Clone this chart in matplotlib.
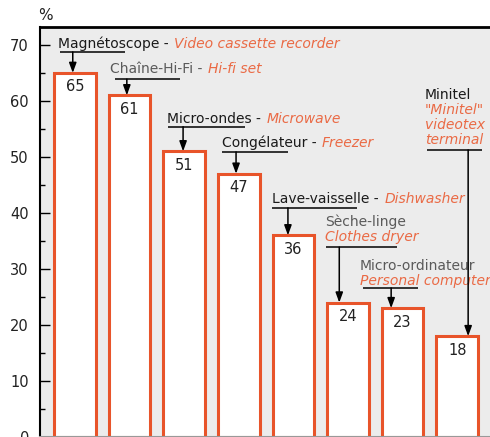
import matplotlib
matplotlib.use("Agg")
import matplotlib.pyplot as plt

plt.rcParams['font.family'] = ['DejaVu Sans']

# ---- data ----
values = [65, 61, 51, 47, 36, 24, 23, 18]
french = ["Magnétoscope -", "Chaîne-Hi-Fi -", "Micro-ondes -", "Congélateur -",
          "Lave-vaisselle -", "Sèche-linge", "Micro-ordinateur", "Minitel"]
english = ["Video cassette recorder", "Hi-fi set", "Microwave", "Freezer",
           "Dishwasher", "Clothes dryer", "Personal computer",
           "\"Minitel\"\nvideotex\nterminal"]
french_gray = [False, True, False, False, False, True, True, False]
yticks = [0, 10, 20, 30, 40, 50, 60, 70]

ORANGE = "#e8542a"
ORANGE_TXT = "#ea6a45"
BG = "#ececec"

fig = plt.figure(figsize=(4.9, 4.37), dpi=100)
ax = fig.add_axes([40/490, 0.0, 450/490, 410/437])
ax.set_facecolor(BG)

x = list(range(len(values)))
ax.bar(x, values, width=0.76, color="white", edgecolor=ORANGE, linewidth=2.2, zorder=2)
ax.set_xlim(-0.64, 7.6)
ax.set_ylim(0, 73.2)

for xi, v in zip(x, values):
    ax.annotate(str(v), (xi, v), xytext=(0, -10), textcoords="offset points",
                ha="center", va="center", fontsize=10.5, color="#222222", zorder=3)

# annotation layout: text position, underline extent / height, arrow x offset
layout = [
    dict(tx=-0.31, ty=69.5, inline=True, ux=(-0.27, 0.92), uy=68.75, ax=-0.04),
    dict(tx=0.64, ty=64.9, inline=True, ux=(0.73, 1.92), uy=63.9, ax=-0.05),
    dict(tx=1.68, ty=56.1, inline=True, ux=(1.70, 3.11), uy=55.4, ax=-0.02),
    dict(tx=2.69, ty=51.8, inline=True, ux=(2.69, 3.90), uy=50.9, ax=-0.05),
    dict(tx=3.61, ty=41.8, inline=True, ux=(3.61, 5.16), uy=40.9, ax=-0.10),
    dict(tx=4.58, ty=37.7, inline=False, ux=(4.60, 5.90), uy=33.9, ax=-0.16),
    dict(tx=5.22, ty=29.8, inline=False, ux=(5.27, 6.28), uy=26.6, ax=-0.21),
    dict(tx=6.41, ty=60.4, inline=False, ux=(6.45, 7.45), uy=51.25, ax=0.20),
]

for i, (fr, en, gray, L) in enumerate(zip(french, english, french_gray, layout)):
    fc = "#5a5a5a" if gray else "#1a1a1a"
    t = ax.text(L["tx"], L["ty"], fr, fontsize=10, color=fc, ha="left", va="baseline", zorder=4)
    if L["inline"]:
        ax.annotate(en, xy=(1, 0), xycoords=t, xytext=(4, 0), textcoords="offset points",
                    fontsize=10, color=ORANGE_TXT, style="italic", ha="left", va="bottom", zorder=4)
    else:
        ax.annotate(en, xy=(0, 0), xycoords=t, xytext=(0, -1), textcoords="offset points",
                    fontsize=10, color=ORANGE_TXT, style="italic", ha="left", va="top",
                    linespacing=1.1, zorder=4)
    ax.plot(L["ux"], [L["uy"], L["uy"]], color="black", lw=1.1, zorder=4, solid_capstyle="butt")
    ax.annotate("", xy=(i + L["ax"], values[i]), xytext=(i + L["ax"], L["uy"]),
                arrowprops=dict(arrowstyle="-|>,head_length=0.6,head_width=0.22",
                                color="black", lw=1.1, shrinkA=0, shrinkB=0), zorder=5)

ax.set_xticks([])
ax.set_yticks(yticks)
ax.set_yticks([5, 15, 25, 35, 45, 55, 65], minor=True)
ax.tick_params(axis="y", which="major", direction="in", length=7, width=1, pad=8,
               labelsize=10.5, labelcolor="#222222")
ax.tick_params(axis="y", which="minor", direction="in", length=3.5, width=1)
ax.spines["right"].set_visible(False)
ax.spines["top"].set_linewidth(2)
ax.spines["left"].set_linewidth(1.5)
ax.spines["bottom"].set_color("#999999")
ax.spines["bottom"].set_linewidth(1.5)

ax.text(0.013, 1.01, "%", transform=ax.transAxes, ha="center", va="bottom",
        fontsize=11, color="#222222")

fig.savefig("out.png", dpi=100)
